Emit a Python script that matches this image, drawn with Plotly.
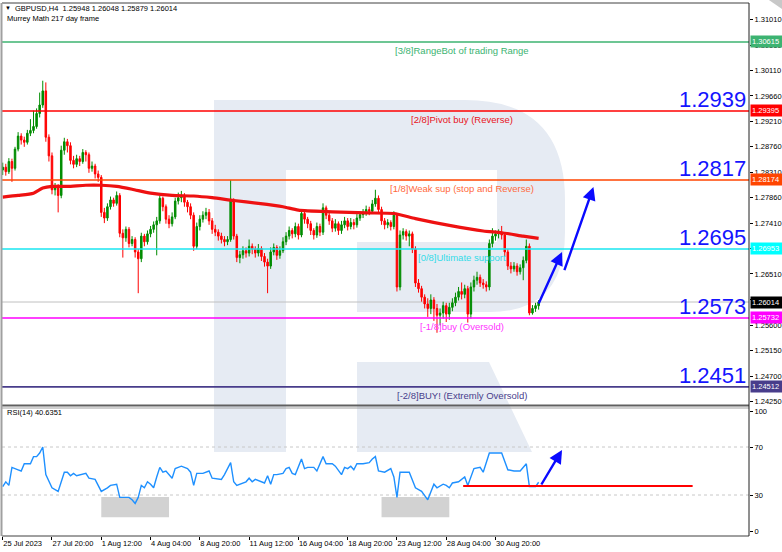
import plotly.graph_objects as go

# ---------------- data ----------------
opens = [1.2835,1.2840,1.2832,1.2850,1.2838,1.2872,1.2895,1.2888,1.2884,1.2900,
1.2905,1.2912,1.2935,1.2950,1.2975,1.2893,1.2860,1.2800,1.2805,1.2790,
1.2870,1.2885,1.2878,1.2852,1.2845,1.2855,1.2850,1.2866,1.2862,1.2838,
1.2842,1.2828,1.2822,1.2760,1.2750,1.2770,1.2782,1.2776,1.2790,1.2723,
1.2715,1.2730,1.2705,1.2712,1.2690,1.2678,1.2718,1.2708,1.2722,1.2730,
1.2738,1.2745,1.2785,1.2770,1.2748,1.2740,1.2752,1.2780,1.2786,1.2790,
1.2778,1.2770,1.2755,1.2700,1.2735,1.2748,1.2755,1.2760,1.2745,1.2730,
1.2725,1.2718,1.2712,1.2708,1.2712,1.2780,1.2718,1.2680,1.2685,1.2692,
1.2688,1.2700,1.2695,1.2688,1.2696,1.2682,1.2672,1.2665,1.2690,1.2698,
1.2684,1.2692,1.2708,1.2718,1.2728,1.2722,1.2735,1.2720,1.2758,1.2748,
1.2740,1.2728,1.2720,1.2735,1.2725,1.2768,1.2755,1.2745,1.2732,1.2740,
1.2728,1.2738,1.2745,1.2735,1.2742,1.2738,1.2750,1.2756,1.2760,1.2765,
1.2762,1.2775,1.2785,1.2765,1.2745,1.2738,1.2742,1.2735,1.2755,1.2628,
1.2720,1.2726,1.2718,1.2722,1.2695,1.2635,1.2625,1.2610,1.2598,1.2590,
1.2605,1.2590,1.2578,1.2582,1.2595,1.2580,1.2592,1.2600,1.2610,1.2620,
1.2615,1.2625,1.2580,1.2628,1.2640,1.2645,1.2635,1.2632,1.2628,1.2705,
1.2718,1.2722,1.2725,1.2720,1.2690,1.2665,1.2660,1.2665,1.2655,1.2662,
1.2675,1.2700,1.2582,1.2590,1.25948]
highs = [1.2848,1.2846,1.2856,1.2855,1.2876,1.2902,1.2900,1.2894,1.2906,1.2925,
1.2940,1.2944,1.2972,1.2993,1.2990,1.2898,1.2866,1.2812,1.2810,1.2878,
1.2892,1.2890,1.2884,1.2860,1.2862,1.2860,1.2872,1.2870,1.2866,1.2850,
1.2846,1.2834,1.2826,1.2768,1.2776,1.2788,1.2786,1.2797,1.2794,1.2730,
1.2735,1.2734,1.2718,1.2716,1.2695,1.2724,1.2722,1.2728,1.2736,1.2744,
1.2752,1.2790,1.2788,1.2774,1.2755,1.2760,1.2786,1.2795,1.2798,1.2794,
1.2782,1.2776,1.2760,1.2742,1.2755,1.2762,1.2768,1.2766,1.2750,1.2738,
1.2730,1.2724,1.2718,1.2718,1.2817,1.2785,1.2722,1.2692,1.2700,1.2698,
1.2712,1.2705,1.2700,1.2704,1.2700,1.2688,1.2678,1.2698,1.2705,1.2702,
1.2700,1.2716,1.2725,1.2735,1.2732,1.2742,1.2740,1.2765,1.2762,1.2752,
1.2745,1.2732,1.2742,1.2740,1.2776,1.2772,1.2760,1.2750,1.2748,1.2744,
1.2745,1.2752,1.2750,1.2750,1.2748,1.2757,1.2762,1.2766,1.2772,1.2770,
1.2782,1.2800,1.2790,1.2770,1.2750,1.2748,1.2746,1.2762,1.2758,1.2728,
1.2732,1.2730,1.2728,1.2726,1.2700,1.2642,1.2630,1.2615,1.2608,1.2615,
1.2610,1.2598,1.2590,1.2602,1.2600,1.2600,1.2608,1.2618,1.2628,1.2636,
1.2632,1.2630,1.2636,1.2648,1.2655,1.2650,1.2642,1.2638,1.2712,1.2732,
1.2728,1.2730,1.2736,1.2724,1.2695,1.2672,1.2672,1.2670,1.2668,1.2682,
1.2712,1.2705,1.2596,1.2600,1.26048]
lows = [1.2826,1.2825,1.2828,1.2814,1.2834,1.2868,1.2880,1.2876,1.2880,1.2895,
1.2900,1.2908,1.2928,1.2945,1.2885,1.2850,1.2792,1.2790,1.2760,1.2785,
1.2862,1.2866,1.2845,1.2838,1.2840,1.2842,1.2846,1.2850,1.2830,1.2832,
1.2820,1.2814,1.2752,1.2741,1.2745,1.2765,1.2770,1.2772,1.2716,1.2680,
1.2708,1.2698,1.2700,1.2680,1.2617,1.2672,1.2700,1.2703,1.2716,1.2724,
1.2684,1.2740,1.2762,1.2740,1.2732,1.2735,1.2748,1.2774,1.2778,1.2770,
1.2760,1.2748,1.2692,1.2695,1.2728,1.2742,1.2748,1.2738,1.2722,1.2718,
1.2710,1.2705,1.2700,1.2702,1.2708,1.2712,1.2672,1.2670,1.2678,1.2680,
1.2682,1.2686,1.2680,1.2682,1.2674,1.2664,1.2617,1.2660,1.2684,1.2676,
1.2678,1.2688,1.2702,1.2712,1.2714,1.2716,1.2712,1.2716,1.2740,1.2732,
1.2720,1.2712,1.2715,1.2718,1.2720,1.2748,1.2738,1.2725,1.2726,1.2720,
1.2722,1.2732,1.2728,1.2730,1.2730,1.2733,1.2745,1.2750,1.2754,1.2755,
1.2758,1.2770,1.2758,1.2738,1.2730,1.2732,1.2728,1.2730,1.2620,1.2622,
1.2712,1.2710,1.2700,1.2688,1.2628,1.2618,1.2602,1.2590,1.2575,1.2580,
1.2568,1.2547,1.2560,1.2572,1.2566,1.2570,1.2585,1.2594,1.2604,1.2606,
1.2608,1.2565,1.2572,1.2620,1.2632,1.2628,1.2625,1.2620,1.2622,1.2698,
1.2710,1.2714,1.2712,1.2682,1.2658,1.2652,1.2655,1.2648,1.2650,1.2640,
1.2670,1.2578,1.2579,1.2584,1.25879]
closes = [1.2840,1.2832,1.2850,1.2838,1.2872,1.2895,1.2888,1.2884,1.2900,1.2905,
1.2912,1.2935,1.2950,1.2975,1.2893,1.2860,1.2800,1.2805,1.2790,1.2870,
1.2885,1.2878,1.2852,1.2845,1.2855,1.2850,1.2866,1.2862,1.2838,1.2842,
1.2828,1.2822,1.2760,1.2750,1.2770,1.2782,1.2776,1.2790,1.2723,1.2715,
1.2730,1.2705,1.2712,1.2690,1.2678,1.2718,1.2708,1.2722,1.2730,1.2738,
1.2745,1.2785,1.2770,1.2748,1.2740,1.2752,1.2780,1.2786,1.2790,1.2778,
1.2770,1.2755,1.2700,1.2735,1.2748,1.2755,1.2760,1.2745,1.2730,1.2725,
1.2718,1.2712,1.2708,1.2712,1.2780,1.2718,1.2680,1.2685,1.2692,1.2688,
1.2700,1.2695,1.2688,1.2696,1.2682,1.2672,1.2665,1.2690,1.2698,1.2684,
1.2692,1.2708,1.2718,1.2728,1.2722,1.2735,1.2720,1.2758,1.2748,1.2740,
1.2728,1.2720,1.2735,1.2725,1.2768,1.2755,1.2745,1.2732,1.2740,1.2728,
1.2738,1.2745,1.2735,1.2742,1.2738,1.2750,1.2756,1.2760,1.2765,1.2762,
1.2775,1.2785,1.2765,1.2745,1.2738,1.2742,1.2735,1.2755,1.2628,1.2720,
1.2726,1.2718,1.2722,1.2695,1.2635,1.2625,1.2610,1.2598,1.2590,1.2605,
1.2590,1.2578,1.2582,1.2595,1.2580,1.2592,1.2600,1.2610,1.2620,1.2615,
1.2625,1.2580,1.2628,1.2640,1.2645,1.2635,1.2632,1.2628,1.2705,1.2718,
1.2722,1.2725,1.2720,1.2690,1.2665,1.2660,1.2665,1.2655,1.2662,1.2675,
1.2700,1.2582,1.2590,1.2595,1.26014]
bars = list(range(len(closes)))

ma_idx = [0,5,10,13,16,21,27,32,37,42,48,55,62,68,75,83,91,96,107,118,127,134,145,156,162,169,174]
ma_val = [1.2787,1.2790,1.2794,1.2803,1.2806,1.2806,1.2808,1.2808,1.2806,1.2801,1.2794,1.2790,
          1.2789,1.2786,1.2781,1.2776,1.2770,1.2764,1.2761,1.2759,1.2758,1.2749,1.2737,1.2727,
          1.2724,1.2718,1.2714]

rsi_idx = [0,1,2,3,5,6,7,9,10,11,12,13,14,16,18,20,21,22,23,24,27,28,30,32,34,35,37,38,40,41,
           42,43,44,45,46,47,48,49,50,51,52,53,55,56,57,58,60,61,62,63,65,67,68,71,72,74,75,76,
           79,80,81,82,85,86,87,88,89,91,92,93,94,95,97,98,99,101,102,104,105,107,108,110,111,
           112,113,114,115,117,119,120,121,122,124,126,127,128,129,132,134,136,138,140,141,143,
           144,145,146,148,150,151,153,155,156,158,160,162,164,166,168,170,171,173,174]
rsi_val = [37,41,38,53,51,50,56,56,62,62,65,70,47,36,33,49,49,46,48,46,48,44,43,33,36,38,39,28,28,28,
           26,23,28,38,36,41,39,36,45,53,49,50,44,52,53,54,52,49,38,48,48,50,44,43,47,57,41,38,
           41,44,41,43,40,46,39,47,47,48,52,53,48,47,60,52,53,53,50,62,56,56,54,47,53,
           52,54,51,56,56,57,60,62,50,49,52,45,28,49,49,36,33,26,39,36,39,
           38,36,40,41,45,38,52,53,49,65,65,65,51,50,50,56,37,37,40.6351]

tick_idx = [0,16,32,48,64,80,96,112,128,144,160]
tick_lbl = ["25 Jul 2023","27 Jul 20:00","1 Aug 12:00","4 Aug 04:00","8 Aug 20:00","11 Aug 12:00",
            "16 Aug 04:00","18 Aug 20:00","23 Aug 12:00","28 Aug 04:00","30 Aug 20:00"]
price_ticks = [1.24250,1.24700,1.25150,1.25600,1.26060,1.26510,1.26960,1.27410,1.27860,
               1.28310,1.28760,1.29210,1.29660,1.30110,1.30560,1.31010]

levels = [1.30615,1.29395,1.28174,1.26953,1.25732,1.24512]
level_names = ["[3/8]RangeBot of trading Range","[2/8]Pivot buy (Reverse)",
               "[1/8]Weak sup (stop and Reverse)","[0/8]Ultimate support",
               "[-1/8]buy (Oversold)","[-2/8]BUY! (Extremly Oversold)"]
big_labels = {1.29395:"1.2939",1.28174:"1.2817",1.26953:"1.2695",1.25732:"1.2573",1.24512:"1.2451"}
last_price = 1.26014
rsi_level = 37.5

# ---------------- styles ----------------
W, H = 782, 552
L, R, T, B = 2, 33, 3, 16
PW, PH = W - L - R, H - T - B
def px(x): return (x - L) / PW
def py(y): return (H - B - y) / PH

level_cols = ["#3cb371","#ff0000","#ff4500","#19e6f0","#ff00ff","#483d8b"]
text_cols = ["#3cb371","#e8141b","#ff6a3d","#33dbe8","#ff33ff","#483d8b"]
FONT = "Liberation Sans"

fig = go.Figure()

fig.add_trace(go.Candlestick(
    x=bars, open=opens, high=highs, low=lows, close=closes,
    increasing=dict(line=dict(color="#008c00", width=1), fillcolor="#008c00"),
    decreasing=dict(line=dict(color="#ff0000", width=1), fillcolor="#ff0000"),
    whiskerwidth=0, xaxis="x", yaxis="y", showlegend=False, hoverinfo="skip"))

fig.add_trace(go.Scatter(x=ma_idx, y=ma_val, mode="lines", line=dict(color="#ee1111", width=3.2, shape="spline", smoothing=0.6),
                         xaxis="x", yaxis="y", showlegend=False, hoverinfo="skip"))

fig.add_trace(go.Scatter(x=rsi_idx, y=rsi_val, mode="lines", line=dict(color="#1e90ff", width=1.4),
                         xaxis="x2", yaxis="y2", showlegend=False, hoverinfo="skip"))

shapes = []
# watermark R (pixel geometry)
wm = "#e6ebf3"
def P(pts):
    s = ""
    for cmd, *xy in pts:
        if cmd == "Z":
            s += " Z"
        else:
            coords = " ".join(f"{px(xy[i]):.5f},{py(xy[i+1]):.5f}" for i in range(0, len(xy), 2))
            s += f" {cmd} {coords}"
    return s.strip()
shapes.append(dict(type="path", xref="paper", yref="paper", layer="below", line=dict(width=0), fillcolor=wm,
                   path=P([("M",214,100),("L",465,100),("Q",565,100,565,200),("L",565,232),("Q",565,312,490,312),
                           ("L",357,312),("L",357,242),("L",497,242),("L",497,170),("L",286,170),("L",286,452),
                           ("L",214,452),("Z",)])))
shapes.append(dict(type="path", xref="paper", yref="paper", layer="below", line=dict(width=0), fillcolor=wm,
                   path=P([("M",357,362),("L",489,362),("L",532,452),("L",357,452),("Z",)])))

# RSI gray boxes
for x0, x1 in [(32, 54), (123, 145)]:
    shapes.append(dict(type="rect", xref="x2", yref="y2", x0=x0, x1=x1, y0=11.5, y1=28.3,
                       fillcolor="#d2d2d2", line=dict(width=0), layer="below"))
# RSI dotted levels
for v in (30, 70):
    shapes.append(dict(type="line", xref="paper", yref="y2", x0=0, x1=1, y0=v, y1=v,
                       line=dict(color="#c8c8c8", width=1, dash="dot"), layer="below"))
# Murrey levels
for lv, c in zip(levels, level_cols):
    shapes.append(dict(type="line", xref="paper", yref="y", x0=0, x1=1, y0=lv, y1=lv,
                       line=dict(color=c, width=1.6)))
shapes.append(dict(type="line", xref="paper", yref="y", x0=0, x1=1, y0=last_price, y1=last_price,
                   line=dict(color="#c0c0c0", width=1), layer="below"))
# RSI red line
shapes.append(dict(type="line", xref="x2", yref="y2", x0=149.5, x1=224, y0=rsi_level, y1=rsi_level,
                   line=dict(color="#ff0000", width=2)))
# frames
shapes.append(dict(type="line", xref="paper", yref="paper", x0=0, x1=1, y0=py(405.5), y1=py(405.5),
                   line=dict(color="#606060", width=2)))
shapes.append(dict(type="line", xref="paper", yref="paper", x0=0, x1=1, y0=py(408), y1=py(408),
                   line=dict(color="#a0a0a0", width=1)))
shapes.append(dict(type="line", xref="paper", yref="paper", x0=0, x1=1, y0=py(3), y1=py(3),
                   line=dict(color="#404040", width=1)))
shapes.append(dict(type="line", xref="paper", yref="paper", x0=0, x1=1, y0=0, y1=0,
                   line=dict(color="#404040", width=1)))
shapes.append(dict(type="line", xref="paper", yref="paper", x0=1, x1=1, y0=0, y1=1,
                   line=dict(color="#202020", width=1)))
shapes.append(dict(type="line", xref="paper", yref="paper", x0=px(1.5), x1=px(1.5), y0=0, y1=1,
                   line=dict(color="#a0a0a0", width=2)))
shapes.append(dict(type="path", xref="paper", yref="paper", fillcolor="#c8c8c8", line=dict(width=0),
                   path=P([("M",766,-2),("L",782,-2),("L",782,9),("Z",)])))

ann = []
# level texts
for lv, name, c in zip(levels, level_names, text_cols):
    ann.append(dict(x=149, y=lv, xref="x", yref="y", text=name, showarrow=False, xanchor="center",
                    yanchor="top", yshift=-1, font=dict(family=FONT, size=9.5, color=c)))
# big blue numbers
for lv, t in big_labels.items():
    ann.append(dict(x=px(748), y=lv, xref="paper", yref="y", text=t, showarrow=False, xanchor="right",
                    yanchor="bottom", yshift=-3, font=dict(family=FONT, size=22, color="#1414ff")))
# price boxes on the axis
box_vals = [1.30615,1.29395,1.28174,1.26953,last_price,1.25732,1.24512]
box_cols = ["#3cb371","#ff0000","#ff4500","#00ffff","#000000","#ff00ff","#483d8b"]
for v, c in zip(box_vals, box_cols):
    ann.append(dict(x=px(750), y=v, xref="paper", yref="y", text=f"{v:.5f}", showarrow=False,
                    xanchor="left", yanchor="middle", bgcolor=c, borderpad=1, width=29, align="left",
                    font=dict(family=FONT, size=7.5, color="#ffffff")))
# header texts
ann.append(dict(x=px(3), y=py(8), xref="paper", yref="paper", text="▼", showarrow=False, xanchor="left",
                yanchor="middle", font=dict(family=FONT, size=6, color="#000000")))
ann.append(dict(x=px(13), y=py(8), xref="paper", yref="paper",
                text="GBPUSD,H4  1.25948 1.26048 1.25879 1.26014", showarrow=False, xanchor="left",
                yanchor="middle", font=dict(family=FONT, size=7.5, color="#000000")))
ann.append(dict(x=px(5), y=py(19), xref="paper", yref="paper", text="Murrey Math 217 day frame",
                showarrow=False, xanchor="left", yanchor="middle", font=dict(family=FONT, size=7.5, color="#000000")))
ann.append(dict(x=px(5), y=py(413), xref="paper", yref="paper", text="RSI(14) 40.6351",
                showarrow=False, xanchor="left", yanchor="middle", font=dict(family=FONT, size=7.5, color="#000000")))
# arrows
arrow_style = dict(showarrow=True, arrowhead=2, arrowsize=1.1, arrowwidth=2.4, arrowcolor="#0a0aff", text="")
ann.append(dict(x=181.6, y=1.2690, ax=173.8, ay=1.2596, xref="x", yref="y", axref="x", ayref="y", **arrow_style))
ann.append(dict(x=191.8, y=1.2805, ax=182.2, ay=1.2655, xref="x", yref="y", axref="x", ayref="y", **arrow_style))
ann.append(dict(x=181.6, y=67.5, ax=174.6, ay=37.5, xref="x2", yref="y2", axref="x2", ayref="y2", **arrow_style))

xr = [-0.23, 242.3]
fig.update_layout(
    width=W, height=H, margin=dict(l=L, r=R, t=T, b=B, autoexpand=False),
    paper_bgcolor="#ffffff", plot_bgcolor="#ffffff",
    shapes=shapes, annotations=ann, showlegend=False,
    xaxis=dict(domain=[0, 1], anchor="y", range=xr, showgrid=False, zeroline=False, showticklabels=False,
               ticks="", rangeslider=dict(visible=False), fixedrange=True, automargin=False),
    yaxis=dict(domain=[py(406), 1], anchor="x", side="right", range=[1.24174, 1.31305], showgrid=False,
               zeroline=False, tickvals=price_ticks, ticktext=[f"{v:.5f}" for v in price_ticks],
               ticks="outside", ticklen=3, tickcolor="#000000", automargin=False,
               tickfont=dict(family=FONT, size=7.5, color="#000000")),
    xaxis2=dict(domain=[0, 1], anchor="y2", range=xr, showgrid=False, zeroline=False,
                tickvals=tick_idx, ticktext=tick_lbl, ticks="outside", ticklen=3, tickcolor="#000000",
                tickangle=0, automargin=False,
                ticklabelposition="outside right", tickfont=dict(family=FONT, size=7.5, color="#000000")),
    yaxis2=dict(domain=[0, py(408)], anchor="x2", side="right", range=[-4.17, 102.5], showgrid=False,
                zeroline=False, tickvals=[0, 30, 70, 100], ticktext=["0", "30", "70", "100"],
                ticks="outside", ticklen=3, tickcolor="#000000", automargin=False,
                tickfont=dict(family=FONT, size=7.5, color="#000000")),
)

fig.write_html("out.html", config={"displayModeBar": False},
               post_script="document.body.style.margin='0';document.body.style.overflow='hidden';")
